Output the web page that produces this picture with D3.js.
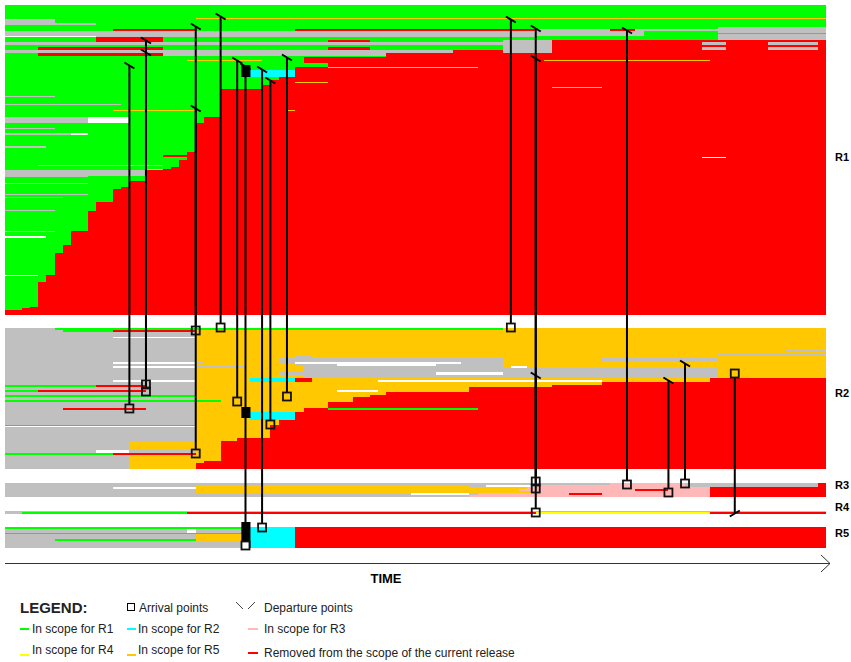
<!DOCTYPE html>
<html>
<head>
<meta charset="utf-8">
<title></title>
<script src="https://cdnjs.cloudflare.com/ajax/libs/d3/7.8.5/d3.min.js"></script>
<style>
body { margin: 0; background: #fff; }
text { font-family: "Liberation Sans", Arial, sans-serif; }
</style>
</head>
<body>
<div id="chart"></div>
<script>

// time steps 0..99, each row block = [number of rows, "state+start ..."]
// g=R1 s=not planned w=blank r=removed o=R5 y=R4 c=R2 p=R3
var T_END = 99;
var bandNames = ['R1', 'R2', 'R3', 'R4', 'R5'];

var r1Rows = [
	[13, 'g0'], [1, 'g0 o23'], [4, 's0 g6'], [2, 's0 g11'], [2, 'g0'], [2, 'g0 s86'],
	[2, 'g0 r13 g23 r35 s64 r73 s76'], [2, 's0 g77 s86'], [1, 's0 g77'], [2, 's0 g77 s86'],
	[1, 'w0 s11 g64 s86'], [3, 'g0 r11 g19 s86'],
	[2, 'g0 r11 g19 r39 g44 s60 r66'], [3, 's0 r66 s84 r87 s92 r98'], [2, 'g0 s60 r66'],
	[3, 'g0 r4 g19 r39 g44 s60 r66 s84 r87 s92 r98'], [3, 's0 r54 s60 r66'],
	[3, 'g0 r4 s19 r46'], [1, 'g0 r46'], [3, 'g0 r36'], [1, 'g0 o22 g31 r36 o65 r85'],
	[2, 'g0 r36'], [4, 'g0 r39'], [1, 'g0 r35 o39 r57'], [2, 'g0 r35'], [7, 'g0 c29.6 r35'],
	[3, 'g0 r33'], [2, 'g0 r32'], [1, 'g0 r32 o35 r39'], [2, 'g0 r32'], [2, 'g0 r31'],
	[1, 'g0 r31 s66 r72'], [1, 'g0 r31'], [7, 'g0 r26'], [1, 's0 g6 r26'], [7, 'g0 r26'],
	[1, 's0 g14 r26'], [5, 'g0 r26'], [1, 'g0 o13 g23 r26 o34 r35'], [6, 'g0 r26'],
	[6, 's0 w10 g15 r24'], [5, 'g0 r23'], [1, 's0 g6 r23'], [4, 'g0 r23'], [2, 's0 w8 g10 r23'],
	[11, 'g0 r23'], [2, 's0 g5 r23'], [4, 'g0 r23'], [3, 'g0 r22'], [2, 'g0 r19'],
	[1, 'g0 r22 w84 r87'], [2, 'g0 r22'], [5, 'g0 r21'], [1, 'g0 s4 g19 r21'], [1, 'g0 r21'],
	[2, 'g0 r20'], [1, 'g0 s17 r19'], [6, 's0 r17'], [1, 's0 g10 r17'], [4, 'g0 r17'],
	[2, 'g0 r15'], [1, 's0 g10 r15'], [3, 'g0 r15'], [2, 'g0 r14'], [5, 'g0 r13'],
	[1, 's0 g10 r13'], [2, 'g0 r13'], [1, 's0 g7 r13'], [4, 'g0 r13'], [8, 'g0 r11'],
	[1, 's0 g6 r11'], [20, 'g0 r10'], [1, 's0 g6 r8'], [4, 'g0 r8'], [2, 'w0 g5 r8'],
	[7, 'g0 r8'], [8, 'g0 r7'], [22, 'g0 r6'], [1, 'w0 g4 r5'], [6, 'g0 r5'], [25, 'g0 r4'],
	[1, 'g0 r3'], [2, 'g0 r2'], [5, 'r0']
];

var r2Rows = [
	[2, 's0 g6 o60'], [2, 's0 g7 r13 o23'], [5, 's0 o23'], [1, 's0 w13 o23'], [12, 's0 o23'],
	[2, 's0 o23 s94'], [2, 's0 o23'], [2, 's0 o23 s86'], [2, 's0 o23 s35 o37'],
	[4, 's0 o23 s33 o60 s72 o86'], [2, 's0 w13 s23 o24 s33 w35 s55 o60'],
	[2, 's0 o23 s35 w40 s52 o60'], [2, 's0 w13 s23 o29 s36 o60 w61 o63'],
	[4, 's0 o23 s36 o86'], [3, 's0 o23 s33 w52 s60 o86'], [3, 's0 o23 s36 o86'],
	[2, 's0 o23 c29.6 r35 o37 r85'], [2, 's0 w13 o23 c29.6 r35 o37 w45 o72 r85'],
	[3, 's0 o23 r72'], [2, 'g0 r11 s17 o23 r66'], [3, 's0 o23 r56'],
	[2, 'g0 r4 s17 o23 w40 o45 r56'], [3, 's0 o23 r46'], [2, 'g0 o23 r44'],
	[3, 's0 o23 r42'], [2, 'g0 o26 r42'], [6, 's0 o23 r39'],
	[2, 's0 r7 s17 o23 r36 g39 r57'], [2, 's0 o23 r36'], [8, 's0 o23 c29.6 r35'],
	[5, 's0 o23 r33'], [1, 'g0 o23 r32'], [1, 'w0 o23 r32'], [11, 's0 o23 r32'],
	[3, 's0 o23 r28'], [9, 's0 o15 r26'], [3, 's0 w11 s15 o23 r26'], [2, 'g0 r13 o23 r26'],
	[6, 's0 o15 r26'], [2, 's0 o15 r24'], [6, 's0 o15 r23']
];

var r3Rows = [
	[2, 's0 p73 s82 r98'], [2, 's0 o23 s56 w58 p64 s82 r98'], [2, 's0 w13 s23 o23 p63 r85'],
	[2, 's0 o23 p62 r76 p80 r85'], [2, 's0 o23 p64 r85'], [2, 's0 w49 s56 p57 r68 p72 r85'],
	[2, 's0 p56 r85']
];

var r4Rows = [
	[1, 's0'], [2, 's0 g2 r22 y64 r85']
];

var r5Rows = [
	[2, 'g0 c29.6 r35'], [4, 's0 w22 s23 c29.6 r35'], [1, 'g0 c29.6 r35'],
	[5, 's0 o23 c29.6 r35'], [2, 's0 g6 o23 c29.6 r35'], [6, 's0 c29.6 r35'],
	[1, 's0 o23 c29.6 r35']
];

// [time, departure band, row, arrival band, row]
var moves = [
	[15, 'R1', 60, 'R2', 80], [17, 'R1', 35, 'R2', 63], [17, 'R1', 47, 'R2', 56],
	[23, 'R1', 21, 'R2', 125], [23, 'R1', 103, 'R2', 2], [26, 'R1', 11, 'R2', -1],
	[28, 'R1', 55, 'R2', 73], [29, 'R1', 61, 'R5', 18], [31, 'R1', 64, 'R5', 0],
	[32, 'R1', 75, 'R2', 96], [34, 'R1', 52, 'R2', 68], [61, 'R1', 14, 'R2', -1],
	[64, 'R1', 23, 'R3', -2], [64, 'R1', 53, 'R3', 5], [64, 'R2', 47, 'R4', 1],
	[75, 'R1', 25, 'R3', 1], [80, 'R2', 52, 'R3', 9], [82, 'R2', 35, 'R3', 0],
	[88, 'R4', 2, 'R2', 45]
];

// [t0, t1, band, row0, row1]
var blackMarks = [
	[28.5, 29.6, 'R1', 60, 72],
	[28.5, 29.6, 'R2', 79, 90],
	[28.5, 29.6, 'R5', -5, 21]
];

var legendCodes = ['g', 'c', 'p', 'y', 'o', 'r'];
var legendLabels = ['In scope for R1', 'In scope for R2', 'In scope for R3',
	'In scope for R4', 'In scope for R5', 'Removed from the scope of the current release'];

var stateColor = {
	g: '#00ff00', s: '#c0c0c0', w: '#ffffff', r: '#ff0000',
	o: '#ffc800', y: '#ffff00', c: '#00ffff', p: '#ffb8b8', k: '#000000'
};

var bandRows = {R1: r1Rows, R2: r2Rows, R3: r3Rows, R4: r4Rows, R5: r5Rows};
var bandPix = {R1: [5, 315], R2: [328, 469], R3: [483, 497], R4: [511, 514], R5: [527, 548]};
var labelY = {R1: 161, R2: 397, R3: 489, R4: 511, R5: 537};

var W = 851, H = 662;
var svg = d3.select('#chart').append('svg').attr('width', W).attr('height', H);

var x = d3.scaleLinear().domain([0, T_END]).range([5, 826]);
var y = {};
bandNames.forEach(function(b){
	var total = d3.sum(bandRows[b], function(d){ return d[0]; });
	y[b] = d3.scaleLinear().domain([0, total]).range(bandPix[b]);
});

function parseSegs(str) {
	var parts = str.split(' ').map(function(p){ return {c: p[0], t: +p.slice(1)}; });
	return parts.map(function(p, i){
		return {c: p.c, t0: p.t, t1: i < parts.length - 1 ? parts[i + 1].t : T_END};
	});
}

var cells = [];
bandNames.forEach(function(b){
	var row = 0;
	bandRows[b].forEach(function(d){
		parseSegs(d[1]).forEach(function(s){
			if (s.t1 > s.t0) cells.push({band: b, r0: row, r1: row + d[0], c: s.c, t0: s.t0, t1: s.t1});
		});
		row += d[0];
	});
});

svg.append('g').selectAll('rect').data(cells).enter().append('rect')
	.attr('x', function(d){ return x(d.t0); })
	.attr('y', function(d){ return y[d.band](d.r0); })
	.attr('width', function(d){ return x(d.t1) - x(d.t0); })
	.attr('height', function(d){ return y[d.band](d.r1) - y[d.band](d.r0); })
	.attr('fill', function(d){ return stateColor[d.c]; })
	.attr('shape-rendering', 'crispEdges');

// arrival / departure lines
var mg = svg.append('g');
moves.forEach(function(m){
	var mx = x(m[0]);
	var yd = y[m[1]](m[2] + 0.5);
	var ya = y[m[3]](m[4] + 0.5);
	var down = ya > yd;
	mg.append('line')
		.attr('x1', mx).attr('x2', mx)
		.attr('y1', yd).attr('y2', down ? ya - 4 : ya + 4)
		.attr('stroke', '#000').attr('stroke-width', 2);
	mg.append('line')
		.attr('x1', mx - 5).attr('x2', mx + 5)
		.attr('y1', down ? yd - 3 : yd + 3).attr('y2', down ? yd + 3 : yd - 3)
		.attr('stroke', '#000').attr('stroke-width', 2);
});

svg.append('g').selectAll('rect').data(blackMarks).enter().append('rect')
	.attr('x', function(d){ return x(d[0]); })
	.attr('y', function(d){ return y[d[2]](d[3]); })
	.attr('width', function(d){ return x(d[1]) - x(d[0]); })
	.attr('height', function(d){ return y[d[2]](d[4]) - y[d[2]](d[3]); })
	.attr('fill', '#000');

function onBlack(m) {
	return blackMarks.some(function(b){ return b[2] === m[3] && m[0] >= b[0] && m[0] <= b[1]; });
}

svg.append('g').selectAll('rect').data(moves).enter().append('rect')
	.attr('x', function(d){ return x(d[0]) - 4; })
	.attr('y', function(d){ return y[d[3]](d[4] + 0.5) - 4; })
	.attr('width', 8).attr('height', 8)
	.attr('fill', function(d){ return onBlack(d) ? '#ffffff' : 'none'; })
	.attr('stroke', '#111').attr('stroke-width', 1.8);

// time axis
svg.append('path').attr('d', 'M5,563.5H830').attr('stroke', '#333').attr('fill', 'none');
svg.append('path').attr('d', 'M821,555L830,563.5L821,572').attr('stroke', '#333').attr('fill', 'none');
svg.append('text').attr('x', 386).attr('y', 583).attr('text-anchor', 'middle')
	.attr('font-size', 13).attr('font-weight', 'bold').text('TIME');

svg.append('g').selectAll('text').data(bandNames).enter().append('text')
	.attr('x', 835).attr('y', function(d){ return labelY[d]; })
	.attr('font-size', 11).attr('font-weight', 'bold').text(function(d){ return d; });

// legend
var lg = svg.append('g').attr('fill', '#222');
lg.append('text').attr('x', 20).attr('y', 613).attr('font-size', 15).attr('font-weight', 'bold').text('LEGEND:');
lg.append('rect').attr('x', 127.5).attr('y', 603.5).attr('width', 7).attr('height', 7)
	.attr('fill', 'none').attr('stroke', '#000');
lg.append('text').attr('x', 139).attr('y', 612).attr('font-size', 12).text('Arrival points');
lg.append('path').attr('d', 'M236,602L243,609M248,609L255,602').attr('stroke', '#444').attr('fill', 'none');
lg.append('text').attr('x', 264).attr('y', 612).attr('font-size', 12).text('Departure points');

var colX = [20, 127, 248], textX = [32, 138, 264];
legendCodes.forEach(function(c, i){
	var col = i % 3, row = Math.floor(i / 3);
	var base = row === 0 ? 633 : (col === 2 ? 657 : 654);
	var dashY = row === 0 ? 629 : (col === 2 ? 653 : 655);
	lg.append('line').attr('x1', colX[col]).attr('x2', colX[col] + (col === 2 ? 10 : 9))
		.attr('y1', dashY).attr('y2', dashY)
		.attr('stroke', stateColor[c]).attr('stroke-width', 2);
	lg.append('text').attr('x', textX[col]).attr('y', base).attr('font-size', 12).text(legendLabels[i]);
});

</script>
</body>
</html>
